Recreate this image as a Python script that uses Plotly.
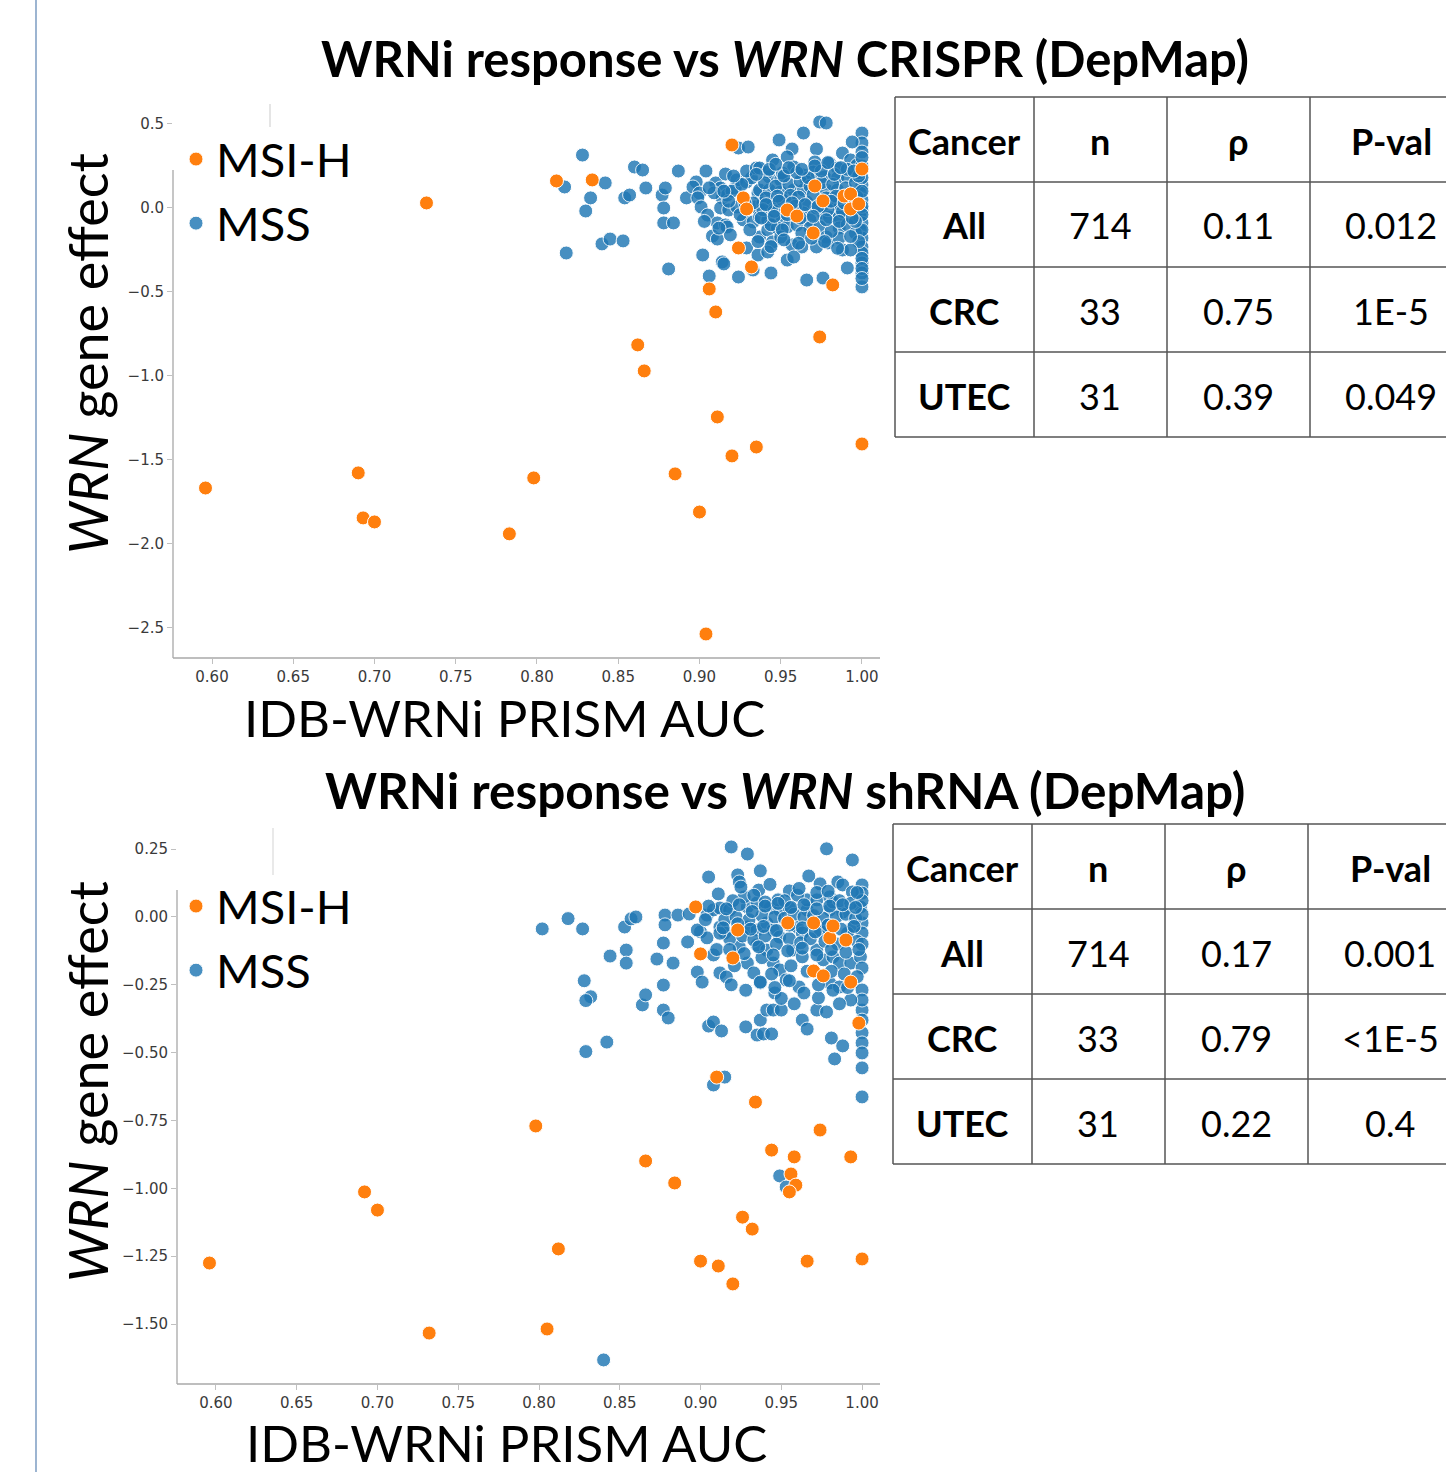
import plotly.graph_objects as go

W, H = 1446, 1472

# ---------------- DATA ----------------
# Panel 1: WRN CRISPR gene effect vs IDB-WRNi PRISM AUC
crispr_msih_auc = [0.596, 0.732, 0.690, 0.693, 0.700, 0.783, 0.798, 0.812, 0.834, 0.862,
                   0.866, 0.885, 0.900, 0.904, 0.906, 0.910, 0.911, 0.920, 0.920, 0.924,
                   0.927, 0.929, 0.932, 0.935, 0.954, 0.960, 0.971, 0.970, 0.974, 0.976,
                   0.982, 0.989, 0.993, 0.993, 0.998, 1.000, 1.000]
crispr_msih_eff = [-1.667, 0.030, -1.577, -1.845, -1.869, -1.940, -1.607, 0.161, 0.167, -0.815,
                   -0.970, -1.583, -1.810, -2.536, -0.482, -0.619, -1.244, 0.375, -1.476, -0.238,
                   0.060, -0.006, -0.351, -1.423, -0.012, -0.048, 0.131, -0.149, -0.768, 0.042,
                   -0.458, 0.071, 0.083, -0.006, 0.024, -1.405, 0.232]

crispr_mss_auc = [0.828, 0.817, 0.833, 0.830, 0.842, 0.854, 0.857, 0.860, 0.865, 0.840,
                  0.845, 0.853, 0.818, 0.867, 0.877, 0.879, 0.878, 0.878, 0.884, 0.881,
                  0.887, 0.892, 0.898, 0.896, 0.900, 0.899, 0.901, 0.905, 0.904, 0.910,
                  0.913, 0.914, 0.917, 0.916, 0.922, 0.923, 0.929, 0.932, 0.929, 0.935,
                  0.913, 0.918, 0.923, 0.927, 0.933, 0.936, 0.934, 0.911, 0.916, 0.908,
                  0.911, 0.902, 0.914, 0.915, 0.906, 0.929, 0.933, 0.924, 0.936, 0.924,
                  0.930, 0.917, 0.937, 0.944,
                  0.974, 0.978, 0.964, 0.949, 0.957, 0.972, 1.000, 1.000, 1.000, 0.994,
                  0.988, 0.945, 0.954, 0.958, 0.971, 0.970, 0.980, 0.985, 0.993, 0.997,
                  0.937, 0.943, 0.942, 0.950, 0.951, 0.964, 0.966, 0.977, 0.985, 0.991,
                  0.999, 1.000, 0.937, 0.943, 0.950, 0.958, 0.964, 0.978, 0.985, 0.999,
                  1.000, 0.939, 0.945, 0.951, 0.966, 0.982, 0.986, 1.000, 0.937, 0.942,
                  0.951, 0.964, 0.968, 0.976, 0.980, 0.986, 0.999, 1.000, 0.942, 0.948,
                  0.954, 0.960, 0.968, 0.974, 0.986, 0.999, 0.945, 0.950, 0.957, 0.963,
                  0.972, 0.978, 0.979, 0.986, 1.000, 1.000, 0.942, 0.954, 0.958, 0.988,
                  1.000, 1.000, 1.000, 1.000, 0.991, 0.966, 0.976,
                  0.940, 0.947, 0.955, 0.962, 0.968, 0.975, 0.982, 0.990, 0.996,
                  0.941, 0.948, 0.956, 0.961, 0.970, 0.978, 0.984, 0.992, 0.997,
                  0.939, 0.946, 0.953, 0.959, 0.972, 0.979, 0.988, 0.995,
                  0.944, 0.951, 0.963, 0.970, 0.981, 0.991, 0.996,
                  0.920, 0.926, 0.918, 0.925, 0.931, 0.909, 0.903, 0.919,
                  1.000, 1.000, 1.000, 1.000, 1.000, 1.000, 1.000, 1.000, 1.000, 1.000,
                  0.998, 0.996, 0.998, 0.993,
                  0.935, 0.943, 0.952, 0.960, 0.967, 0.975, 0.983, 0.991, 0.998,
                  0.933, 0.941, 0.949, 0.957, 0.965, 0.973, 0.981, 0.989,
                  0.938, 0.946, 0.954, 0.962, 0.970, 0.978, 0.986, 0.994,
                  0.936, 0.944, 0.952, 0.961, 0.969, 0.977, 0.985, 0.993,
                  0.947, 0.955, 0.963, 0.971, 0.979, 0.987, 0.995,
                  0.921, 0.928, 0.915, 0.906, 0.912]
crispr_mss_eff = [0.315, 0.125, 0.060, -0.018, 0.149, 0.060, 0.077, 0.244, 0.226, -0.214,
                  -0.185, -0.196, -0.268, 0.119, 0.077, 0.119, 0.000, -0.089, -0.089, -0.363,
                  0.220, 0.060, 0.155, 0.125, 0.089, 0.060, 0.006, -0.042, 0.220, 0.149,
                  0.119, 0.060, 0.077, 0.202, 0.119, 0.167, 0.155, 0.179, 0.220, 0.238,
                  0.000, -0.012, 0.006, -0.071, -0.083, 0.089, 0.006, -0.089, -0.101, -0.167,
                  -0.185, -0.280, -0.321, -0.333, -0.405, -0.238, -0.369, -0.411, -0.280, 0.357,
                  0.363, -0.113, -0.173, -0.387,
                  0.512, 0.506, 0.446, 0.405, 0.351, 0.351, 0.446, 0.387, 0.333, 0.393,
                  0.327, 0.286, 0.304, 0.244, 0.274, 0.214, 0.268, 0.238, 0.286, 0.256,
                  0.238, 0.185, 0.214, 0.167, 0.208, 0.196, 0.155, 0.185, 0.179, 0.185,
                  0.185, 0.137, 0.107, 0.107, 0.095, 0.107, 0.107, 0.107, 0.107, 0.089,
                  0.048, 0.030, 0.018, 0.048, 0.036, 0.030, 0.000, -0.012, -0.054, -0.071,
                  -0.071, -0.030, -0.071, -0.030, -0.054, -0.054, -0.054, -0.089, -0.131, -0.119,
                  -0.113, -0.101, -0.119, -0.113, -0.119, -0.131, -0.202, -0.173, -0.220, -0.232,
                  -0.232, -0.173, -0.208, -0.179, -0.179, -0.232, -0.262, -0.310, -0.292, -0.250,
                  -0.268, -0.327, -0.387, -0.470, -0.357, -0.429, -0.417,
                  0.150, 0.130, 0.140, 0.160, 0.130, 0.150, 0.140, 0.120, 0.150,
                  0.060, 0.070, 0.075, 0.065, 0.080, 0.060, 0.070, 0.050, 0.065,
                  -0.010, -0.020, -0.010, 0.010, 0.000, -0.010, -0.020, -0.005,
                  -0.100, -0.130, -0.150, -0.160, -0.140, -0.100, -0.150,
                  0.100, 0.140, 0.040, -0.040, -0.130, 0.090, -0.080, -0.160,
                  0.250, 0.300, 0.180, 0.100, 0.010, -0.040, -0.130, -0.300, -0.360, -0.420,
                  0.210, -0.080, -0.200, -0.250,
                  0.200, 0.230, 0.190, 0.210, 0.180, 0.220, 0.200, 0.230, 0.190,
                  0.030, 0.020, 0.040, 0.030, 0.020, 0.010, 0.040, 0.030,
                  -0.060, -0.050, -0.040, -0.060, -0.050, -0.070, -0.080, -0.060,
                  -0.200, -0.230, -0.190, -0.210, -0.180, -0.200, -0.240, -0.170,
                  0.260, 0.240, 0.230, 0.250, 0.270, 0.240, 0.220,
                  0.190, 0.030, 0.100, 0.120, -0.120]

# Panel 2: WRN shRNA gene effect vs IDB-WRNi PRISM AUC
shrna_msih_auc = [0.596, 0.692, 0.700, 0.732, 0.798, 0.805, 0.812, 0.866, 0.884, 0.897,
                  0.900, 0.900, 0.910, 0.911, 0.920, 0.920, 0.923, 0.926, 0.932, 0.934,
                  0.944, 0.954, 0.958, 0.956, 0.959, 0.955, 0.966, 0.970, 0.970, 0.974,
                  0.976, 0.980, 0.982, 0.990, 0.993, 0.993, 0.998, 1.000]
shrna_msih_eff = [-1.275, -1.013, -1.080, -1.533, -0.770, -1.518, -1.223, -0.899, -0.980, 0.037,
                  -0.136, -1.268, -0.590, -1.286, -0.151, -1.352, -0.048, -1.106, -1.150, -0.682,
                  -0.859, -0.022, -0.884, -0.947, -0.988, -1.013, -1.268, -0.022, -0.199, -0.785,
                  -0.217, -0.077, -0.033, -0.085, -0.884, -0.240, -0.391, -1.260]

shrna_mss_auc = [0.802, 0.818, 0.827, 0.840, 0.844, 0.853, 0.857, 0.860, 0.854, 0.854,
                 0.828, 0.832, 0.829, 0.842, 0.829, 0.864, 0.866, 0.873, 0.877, 0.878,
                 0.878, 0.886, 0.893, 0.892, 0.883, 0.898, 0.901, 0.877, 0.877, 0.880,
                 0.900, 0.904, 0.898, 0.904, 0.908, 0.912, 0.918, 0.929, 0.935, 0.943,
                 0.949, 0.955, 0.966, 0.980, 0.988, 0.999, 0.919, 0.929, 0.937, 0.978,
                 0.994, 0.905, 0.923, 0.924, 0.936, 0.955, 0.967, 0.974, 0.985, 0.988,
                 1.000, 1.000, 0.911, 0.927, 0.948, 0.966, 0.972, 0.980, 0.982, 0.994,
                 0.912, 0.915, 0.929, 0.935, 0.941, 0.945, 0.949, 0.960, 0.963, 0.974,
                 0.978, 0.994, 1.000, 1.000, 0.908, 0.912, 0.924, 0.929, 0.935, 0.941,
                 0.933, 0.937, 0.945, 0.949, 0.957, 0.963, 0.953, 0.961, 0.972, 0.976,
                 0.982, 0.986, 0.993, 0.999, 1.000, 0.980, 0.986, 0.994, 1.000, 0.916,
                 0.905, 0.908, 0.913, 0.928, 0.937, 0.935, 0.939, 0.944, 0.941, 0.945,
                 0.950, 0.963, 0.966, 0.972, 0.978, 0.946, 0.973, 0.981, 0.988, 0.983,
                 1.000, 1.000, 1.000, 1.000, 1.000, 1.000, 1.000, 0.993, 0.908, 0.915,
                 0.949, 0.953,
                 0.915, 0.922, 0.930, 0.938, 0.946, 0.952, 0.958, 0.964, 0.970, 0.976,
                 0.984, 0.990, 0.996, 1.000,
                 0.918, 0.926, 0.933, 0.940, 0.947, 0.955, 0.962, 0.968, 0.977, 0.985,
                 0.991, 0.997, 1.000,
                 0.920, 0.933, 0.940, 0.952, 0.960, 0.972, 0.986, 0.993, 1.000,
                 0.910, 0.921, 0.938, 0.944, 0.956, 0.966, 0.981, 0.989, 0.997,
                 0.905, 0.912, 0.903, 0.950, 0.958, 0.986, 1.000,
                 0.916, 0.924, 0.932, 0.940, 0.948, 0.956, 0.964, 0.972, 0.980, 0.988, 0.996,
                 0.914, 0.923, 0.931, 0.939, 0.947, 0.955, 0.963, 0.971, 0.979, 0.987, 0.995,
                 0.918, 0.927, 0.936, 0.945, 0.954, 0.963, 0.972, 0.981, 0.990, 0.998,
                 0.919, 0.928, 0.937, 0.946, 0.955, 0.964, 0.973, 0.982, 0.991,
                 0.925, 0.943, 0.961, 0.979, 0.997]
shrna_mss_eff = [-0.044, -0.006, -0.044, -1.632, -0.144, -0.037, -0.007, 0.000, -0.122, -0.170,
                 -0.235, -0.294, -0.308, -0.461, -0.496, -0.324, -0.287, -0.155, -0.096, 0.007,
                 -0.029, 0.007, 0.011, -0.092, -0.170, -0.203, -0.240, -0.251, -0.343, -0.372,
                 -0.055, -0.077, -0.048, 0.007, 0.026, 0.033, 0.026, 0.037, 0.052, 0.033,
                 0.026, 0.033, 0.026, 0.026, 0.018, 0.037, 0.258, 0.232, 0.170, 0.251,
                 0.210, 0.147, 0.155, 0.129, 0.099, 0.096, 0.151, 0.122, 0.129, 0.118,
                 0.118, 0.088, 0.085, 0.074, 0.063, 0.063, 0.063, 0.074, 0.055, 0.092,
                 -0.037, -0.059, -0.037, -0.048, -0.022, -0.048, -0.074, -0.037, -0.059, -0.048,
                 -0.037, -0.041, -0.022, -0.059, -0.140, -0.206, -0.111, -0.170, -0.103, -0.122,
                 -0.206, -0.243, -0.170, -0.195, -0.122, -0.147, -0.232, -0.258, -0.122, -0.158,
                 -0.147, -0.170, -0.170, -0.147, -0.188, -0.243, -0.258, -0.243, -0.269, -0.221,
                 -0.402, -0.387, -0.420, -0.405, -0.380, -0.435, -0.431, -0.431, -0.343, -0.343,
                 -0.343, -0.380, -0.413, -0.343, -0.350, -0.280, -0.298, -0.446, -0.475, -0.523,
                 -0.427, -0.464, -0.501, -0.556, -0.663, -0.343, -0.306, -0.306, -0.619, -0.590,
                 -0.954, -0.995,
                 -0.010, 0.000, -0.010, 0.005, 0.000, -0.005, 0.010, 0.000, 0.005, -0.005,
                 0.000, 0.010, -0.005, 0.010,
                 -0.080, -0.070, -0.085, -0.070, -0.100, -0.080, -0.095, -0.080, -0.090, -0.100,
                 -0.060, -0.090, -0.100,
                 0.060, 0.080, 0.055, 0.060, 0.080, 0.090, 0.060, 0.050, 0.060,
                 -0.120, -0.180, -0.150, -0.210, -0.180, -0.200, -0.200, -0.210, -0.220,
                 0.040, -0.060, -0.010, -0.300, -0.320, -0.320, -0.380,
                 0.030, 0.045, 0.020, 0.040, 0.050, 0.035, 0.045, 0.030, 0.040, 0.045, 0.035,
                 -0.040, -0.025, -0.045, -0.035, -0.050, -0.030, -0.040, -0.055, -0.030, -0.045, -0.035,
                 -0.120, -0.135, -0.110, -0.140, -0.125, -0.115, -0.140, -0.120, -0.130, -0.120,
                 -0.250, -0.270, -0.240, -0.260, -0.235, -0.280, -0.250, -0.270, -0.260,
                 0.110, 0.120, 0.105, 0.095, 0.090]

# Tables
table_header = ["Cancer", "n", "ρ", "P-val"]
table_cancer = ["All", "CRC", "UTEC"]
crispr_n = ["714", "33", "31"]
crispr_rho = ["0.11", "0.75", "0.39"]
crispr_p = ["0.012", "1E-5", "0.049"]
shrna_n = ["714", "33", "31"]
shrna_rho = ["0.17", "0.79", "0.22"]
shrna_p = ["0.001", "<1E-5", "0.4"]

x_ticks = [0.60, 0.65, 0.70, 0.75, 0.80, 0.85, 0.90, 0.95, 1.00]
y1_ticks = [-2.5, -2.0, -1.5, -1.0, -0.5, 0.0, 0.5]
y2_ticks = [-1.5, -1.25, -1.0, -0.75, -0.5, -0.25, 0.0, 0.25]

# ---------------- STYLE ----------------
ORANGE = "#ff7f0e"
BLUE = "#1f77b4"
LABEL_FONT = "Lato"
TICK_FONT = dict(family="DejaVu Sans", size=15, color="#3a3a3a")


def pxx(x):
    return x / W


def pxy(y):
    return 1 - y / H


fig = go.Figure()

marker_mss = dict(color=BLUE, size=14, opacity=0.82, line=dict(color="white", width=1))
marker_msih = dict(color=ORANGE, size=14, opacity=1.0, line=dict(color="white", width=1))

fig.add_trace(go.Scatter(x=crispr_mss_auc, y=crispr_mss_eff, mode="markers", name="MSS",
                         marker=marker_mss, xaxis="x", yaxis="y", legend="legend", legendrank=2))
fig.add_trace(go.Scatter(x=crispr_msih_auc, y=crispr_msih_eff, mode="markers", name="MSI-H",
                         marker=marker_msih, xaxis="x", yaxis="y", legend="legend", legendrank=1))
fig.add_trace(go.Scatter(x=shrna_mss_auc, y=shrna_mss_eff, mode="markers", name="MSS",
                         marker=marker_mss, xaxis="x2", yaxis="y2", legend="legend2", legendrank=2))
fig.add_trace(go.Scatter(x=shrna_msih_auc, y=shrna_msih_eff, mode="markers", name="MSI-H",
                         marker=marker_msih, xaxis="x2", yaxis="y2", legend="legend2", legendrank=1))

axis_common = dict(showgrid=False, zeroline=False, showline=False, ticks="outside",
                   ticklen=5, tickwidth=1, tickcolor="#c0c0c0", tickfont=TICK_FONT)

leg_common = dict(font=dict(family=LABEL_FONT, size=47, color="black"), bgcolor="rgba(0,0,0,0)",
                  itemsizing="trace", traceorder="normal", xanchor="left", yanchor="top")

fig.update_layout(
    width=W, height=H, margin=dict(l=0, r=0, t=0, b=0),
    paper_bgcolor="white", plot_bgcolor="white",
    xaxis=dict(domain=[pxx(173), pxx(880)], range=[0.576, 1.0111], anchor="y",
               tickvals=x_ticks, tickformat=".2f", **axis_common),
    yaxis=dict(domain=[pxy(658), pxy(105)], range=[-2.679, 0.613], anchor="x",
               tickvals=y1_ticks, tickformat=".1f", **axis_common),
    xaxis2=dict(domain=[pxx(177), pxx(880)], range=[0.5759, 1.0111], anchor="y2",
                tickvals=x_ticks, tickformat=".2f", **axis_common),
    yaxis2=dict(domain=[pxy(1384), pxy(835)], range=[-1.7207, 0.302], anchor="x2",
                tickvals=y2_ticks, tickformat=".2f", **axis_common),
    legend=dict(x=pxx(176), y=pxy(122), **leg_common),
    legend2=dict(x=pxx(176), y=pxy(869), **leg_common),
)

shapes = []
# left border line of the slide
shapes.append(dict(type="line", xref="paper", yref="paper", x0=pxx(36), x1=pxx(36), y0=0, y1=1,
                   line=dict(color="#5b83b3", width=1.2)))
# spines
SP = dict(color="#a8a8a8", width=1.3)
shapes += [
    dict(type="line", xref="paper", yref="paper", x0=pxx(173), x1=pxx(173), y0=pxy(170), y1=pxy(658), line=SP),
    dict(type="line", xref="paper", yref="paper", x0=pxx(173), x1=pxx(880), y0=pxy(658), y1=pxy(658), line=SP),
    dict(type="line", xref="paper", yref="paper", x0=pxx(177), x1=pxx(177), y0=pxy(890), y1=pxy(1384), line=SP),
    dict(type="line", xref="paper", yref="paper", x0=pxx(177), x1=pxx(880), y0=pxy(1384), y1=pxy(1384), line=SP),
    dict(type="line", xref="paper", yref="paper", x0=pxx(270), x1=pxx(270), y0=pxy(104), y1=pxy(127),
         line=dict(color="#dddddd", width=1.5)),
    dict(type="line", xref="paper", yref="paper", x0=pxx(273), x1=pxx(273), y0=pxy(828), y1=pxy(875),
         line=dict(color="#e2e2e2", width=1.5)),
]

annotations = []


def add_text(x, y, text, size, angle=0, family=LABEL_FONT, color="black"):
    annotations.append(dict(xref="paper", yref="paper", x=pxx(x), y=pxy(y), text=text,
                            showarrow=False, textangle=angle, xanchor="center", yanchor="middle",
                            font=dict(family=family, size=size, color=color)))


# titles
add_text(785, 58, "<b>WRNi response vs <i>WRN</i> CRISPR (DepMap)</b>", 49)
add_text(785, 790, "<b>WRNi response vs <i>WRN</i> shRNA (DepMap)</b>", 49.5)
# axis titles
add_text(87, 354, "<i>WRN</i> gene effect", 54, angle=-90)
add_text(87, 1082, "<i>WRN</i> gene effect", 54, angle=-90)
add_text(504, 717, "IDB-WRNi PRISM AUC", 51)
add_text(507, 1442, "IDB-WRNi PRISM AUC", 51)


def add_table(left, top, col_edges, row_h, n_vals, rho_vals, p_vals, col_centers):
    TL = dict(color="#555555", width=1.5)
    bottom = top + 4 * row_h
    for i in range(5):
        yy = top + i * row_h
        shapes.append(dict(type="line", xref="paper", yref="paper", x0=pxx(left), x1=1,
                           y0=pxy(yy), y1=pxy(yy), line=TL))
    for xe in col_edges:
        shapes.append(dict(type="line", xref="paper", yref="paper", x0=pxx(xe), x1=pxx(xe),
                           y0=pxy(top), y1=pxy(bottom), line=TL))
    cy = [top + row_h * (i + 0.5) for i in range(4)]
    for j, h in enumerate(table_header):
        add_text(col_centers[j], cy[0] + 1, "<b>%s</b>" % h, 36)
    for i in range(3):
        add_text(col_centers[0], cy[i + 1] + 1, "<b>%s</b>" % table_cancer[i], 36)
        add_text(col_centers[1], cy[i + 1] + 1, n_vals[i], 36)
        add_text(col_centers[2], cy[i + 1] + 1, rho_vals[i], 36)
        add_text(col_centers[3], cy[i + 1] + 1, p_vals[i], 36)


add_table(895, 97, [895, 1034, 1167, 1310], 85, crispr_n, crispr_rho, crispr_p,
          [964, 1100, 1238, 1391])
add_table(893, 824, [893, 1032, 1165, 1308], 85, shrna_n, shrna_rho, shrna_p,
          [962, 1098, 1236, 1390])

fig.update_layout(shapes=shapes, annotations=annotations)

fig.write_html("out.html")
